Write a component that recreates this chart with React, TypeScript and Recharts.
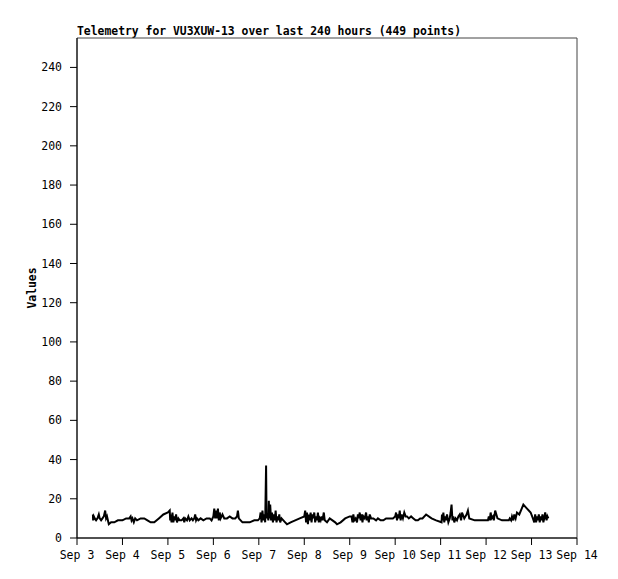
import React from 'react';
import { LineChart, Line, XAxis, YAxis, ReferenceArea } from 'recharts';

// time in days of September, value
const times: number[] = [
  3.35, 3.355, 3.37, 3.39, 3.42, 3.45, 3.48, 3.5, 3.53, 3.56, 3.59, 3.62, 3.64, 3.66, 3.7, 3.75, 3.82, 3.9,
  4.0, 4.08, 4.15, 4.18, 4.2, 4.22, 4.25, 4.28, 4.32, 4.4, 4.48, 4.55, 4.62, 4.7, 4.8, 4.9,
  5.0, 5.04, 5.05, 5.06, 5.08, 5.1, 5.12, 5.14, 5.16, 5.18, 5.2, 5.23, 5.26, 5.3, 5.34, 5.36, 5.38, 5.42, 5.45, 5.48,
  5.52, 5.55, 5.58, 5.6, 5.62, 5.64, 5.67, 5.72, 5.78, 5.85, 5.92, 5.96,
  6.0, 6.02, 6.04, 6.06, 6.08, 6.1, 6.12, 6.14, 6.16, 6.2, 6.24, 6.3, 6.36, 6.42, 6.48, 6.52, 6.54, 6.56, 6.6, 6.64,
  6.7, 6.8, 6.9, 6.98,
  7.02, 7.04, 7.06, 7.08, 7.1, 7.12, 7.14, 7.16, 7.17, 7.19, 7.21, 7.22, 7.23, 7.25, 7.27, 7.29, 7.31, 7.33, 7.35,
  7.37, 7.39, 7.41, 7.43, 7.45, 7.47, 7.5, 7.54, 7.58, 7.62, 7.7, 7.8, 7.9,
  8.0, 8.02, 8.04, 8.06, 8.08, 8.1, 8.12, 8.14, 8.16, 8.18, 8.2, 8.22, 8.24, 8.26, 8.28, 8.3, 8.32, 8.34, 8.36, 8.38,
  8.4, 8.43, 8.45, 8.5, 8.56, 8.62, 8.68, 8.72, 8.8, 8.9,
  9.0, 9.04, 9.06, 9.08, 9.1, 9.13, 9.16, 9.18, 9.2, 9.22, 9.24, 9.26, 9.28, 9.3, 9.33, 9.36, 9.38, 9.4, 9.42, 9.44,
  9.47, 9.52, 9.58, 9.62, 9.68, 9.74, 9.8, 9.88, 9.95,
  10.0, 10.02, 10.04, 10.06, 10.08, 10.1, 10.12, 10.14, 10.17, 10.2, 10.23, 10.26, 10.3, 10.35, 10.4, 10.45, 10.5,
  10.55, 10.6, 10.68, 10.8, 10.9,
  11.02, 11.03, 11.04, 11.06, 11.08, 11.1, 11.12, 11.14, 11.17, 11.2, 11.22, 11.24, 11.26, 11.28, 11.3, 11.33, 11.36,
  11.39, 11.42, 11.45, 11.47, 11.52, 11.57, 11.6, 11.63, 11.75, 11.85, 11.95,
  12.02, 12.04, 12.06, 12.08, 12.1, 12.12, 12.15, 12.17, 12.2, 12.25, 12.35, 12.45, 12.5, 12.52, 12.55, 12.57, 12.6,
  12.62, 12.65, 12.68, 12.73, 12.82, 12.9, 12.98,
  13.03, 13.06, 13.08, 13.1, 13.12, 13.14, 13.16, 13.18, 13.2, 13.22, 13.24, 13.26, 13.28, 13.3, 13.33, 13.35, 13.37,
];

const values: number[] = [
  12, 9, 11, 10, 9, 10, 12, 10, 9, 10, 11, 14, 10, 11, 7, 8, 8, 9,
  9, 10, 10, 11, 9, 10, 8, 10, 9, 10, 10, 9, 8, 8, 10, 12,
  13, 14, 9, 12, 8, 13, 8, 11, 9, 12, 8, 10, 9, 9, 10, 8, 10, 9, 11, 9,
  10, 9, 10, 12, 9, 10, 9, 10, 9, 10, 10, 9,
  11, 15, 10, 14, 10, 15, 9, 13, 10, 12, 10, 10, 11, 10, 10, 11, 14, 10, 9, 8,
  8, 8, 9, 9,
  10, 13, 8, 14, 9, 12, 8, 37, 10, 12, 9, 19, 10, 17, 9, 13, 8, 12, 9,
  14, 8, 11, 9, 12, 8, 10, 9, 8, 7, 8, 9, 10,
  11, 14, 8, 13, 7, 12, 9, 13, 8, 12, 10, 13, 8, 11, 9, 13, 8, 10, 9, 11,
  9, 13, 9, 8, 10, 9, 8, 7, 8, 10,
  11, 11, 8, 12, 9, 10, 8, 12, 10, 13, 9, 12, 8, 11, 10, 13, 9, 11, 8, 12,
  10, 10, 9, 10, 9, 9, 10, 10, 10,
  11, 13, 9, 12, 10, 14, 9, 12, 10, 13, 11, 11, 10, 11, 10, 9, 9,
  10, 10, 12, 10, 9,
  8, 12, 9, 13, 8, 11, 9, 12, 8, 10, 13, 17, 9, 11, 8, 10, 9, 11,
  12, 9, 13, 10, 12, 14, 10, 9, 9, 9, 9,
  9, 11, 9, 13, 10, 11, 9, 14, 10, 9, 9, 9, 10, 9, 11, 9, 12,
  10, 13, 12, 17, 15, 13, 10,
  8, 12, 8, 11, 9, 12, 8, 11, 9, 12, 8, 10, 13, 9, 11, 10, 14,
];

const xTicks: number[] = [3, 4, 5, 6, 7, 8, 9, 10, 11, 12, 13, 14];
const yTicks: number[] = [0, 20, 40, 60, 80, 100, 120, 140, 160, 180, 200, 220, 240];

const title = 'Telemetry for VU3XUW-13 over last 240 hours (449 points)';
const yLabel = 'Values';

const data = times.map((t, i) => ({ t, v: values[i] }));

const FONT = '"DejaVu Sans Mono", monospace';

export default function App() {
  return (
    <div style={{ position: 'absolute', left: 0, top: 0, width: 618, height: 579, background: '#fff' }}>
      <div
        style={{
          position: 'absolute',
          left: 77,
          top: 24,
          fontFamily: FONT,
          fontWeight: 'bold',
          fontSize: 11.4,
          lineHeight: '14px',
          color: '#000',
          whiteSpace: 'nowrap',
        }}
      >
        {title}
      </div>
      <LineChart
        width={618}
        height={579}
        data={data}
        margin={{ top: 38, right: 41, left: 0, bottom: 0 }}
      >
        <ReferenceArea x1={3} x2={14} y1={0} y2={255} fill="none" stroke="#444" strokeWidth={1} ifOverflow="visible" />
        <XAxis
          dataKey="t"
          type="number"
          domain={[3, 14]}
          ticks={xTicks}
          tickFormatter={(v: number) => `Sep ${v}`}
          interval={0}
          height={41}
          tickSize={7}
          tickMargin={6}
          stroke="#000"
          axisLine={{ stroke: '#000' }}
          tickLine={{ stroke: '#000' }}
          tick={{ fill: '#000', fontFamily: FONT, fontSize: 11.5 }}
          allowDataOverflow
        />
        <YAxis
          type="number"
          domain={[0, 255]}
          ticks={yTicks}
          interval={0}
          width={77}
          tickSize={7}
          tickMargin={8}
          axisLine={{ stroke: '#000' }}
          tickLine={{ stroke: '#000' }}
          tick={{ fill: '#000', fontFamily: FONT, fontSize: 11.5 }}
          allowDataOverflow
          label={{
            content: () => (
              <text
                x={32}
                y={288}
                transform="rotate(-90 32 288)"
                textAnchor="middle"
                dominantBaseline="central"
                fontFamily={FONT}
                fontWeight="bold"
                fontSize={11.4}
                fill="#000"
              >
                {yLabel}
              </text>
            ),
          }}
        />
        <Line
          type="linear"
          dataKey="v"
          stroke="#000"
          strokeWidth={2}
          dot={false}
          isAnimationActive={false}
        />
      </LineChart>
    </div>
  );
}
